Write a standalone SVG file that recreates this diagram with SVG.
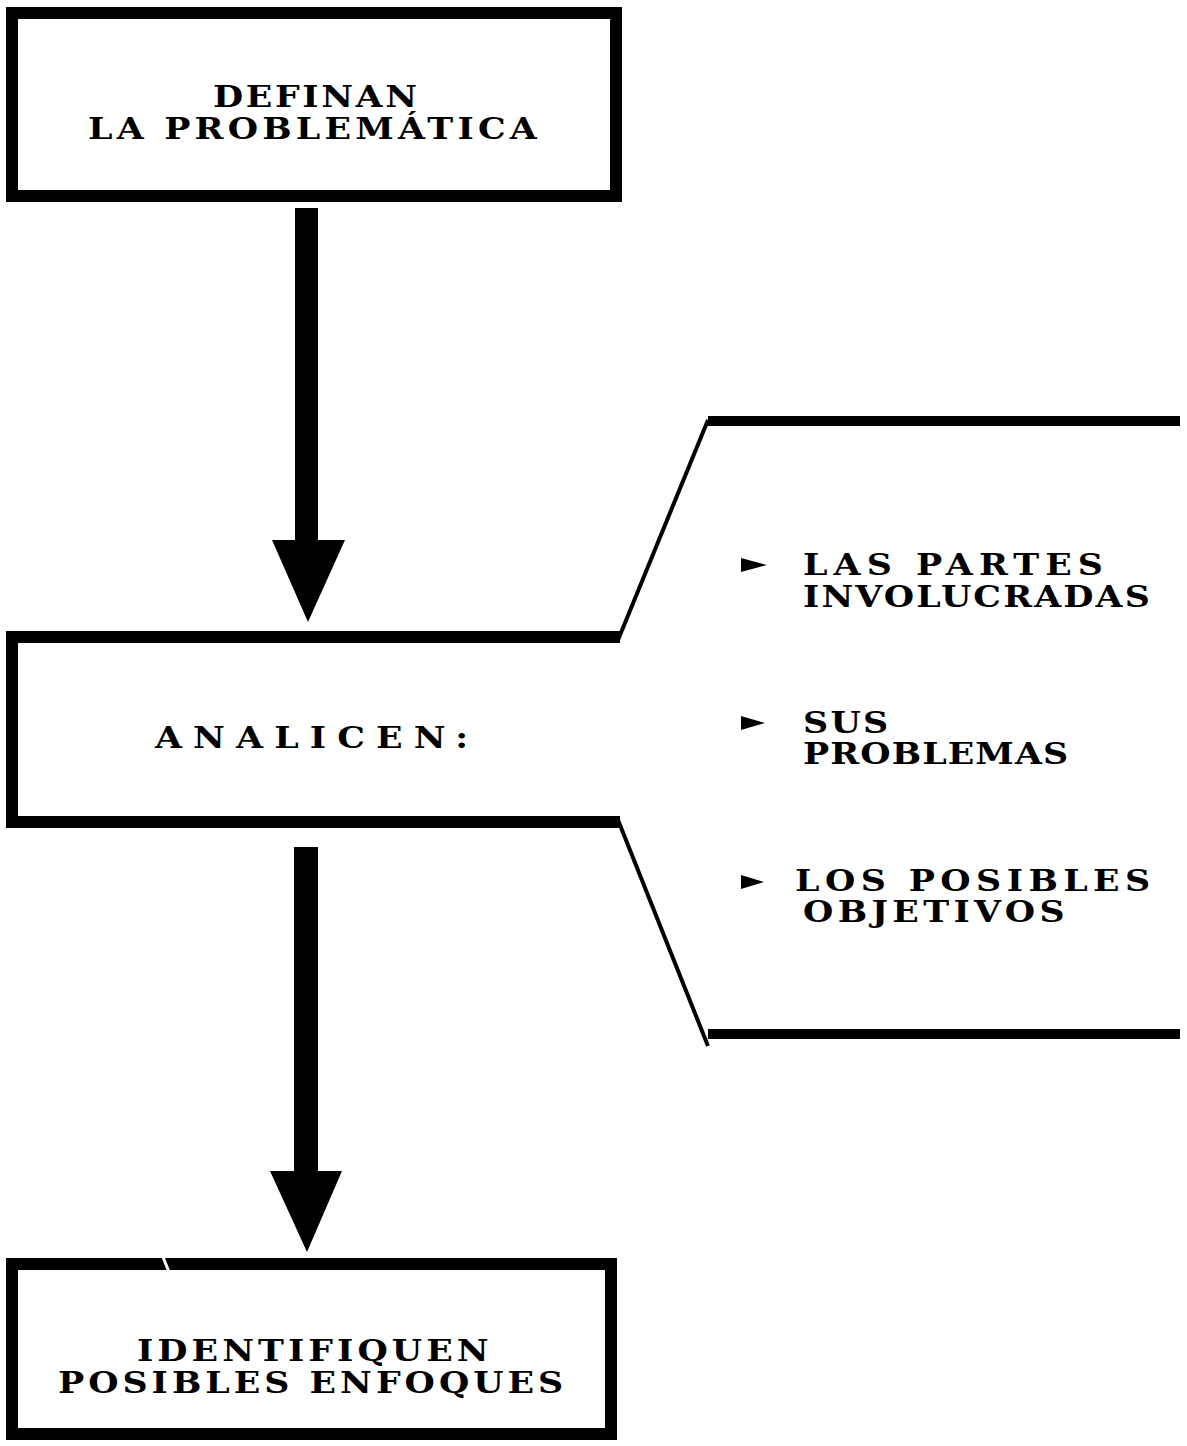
<svg xmlns="http://www.w3.org/2000/svg" width="1187" height="1446" viewBox="0 0 1187 1446">
<style>
.box{fill:none;stroke:#000;stroke-width:12}
.t{font-family:"DejaVu Serif","Liberation Serif",serif;font-weight:bold;font-size:29px;fill:#000}
.thin{fill:none;stroke:#000;stroke-width:4;stroke-linejoin:round}
.thick{fill:none;stroke:#000;stroke-width:10}
</style>
<rect width="1187" height="1446" fill="#fff"/>
<g id="node-definan">
<rect class="box" x="12" y="13" width="604" height="183"/>
<text class="t" transform="matrix(1.2 0 0 1 213 0)" x="0" y="107" textLength="170" lengthAdjust="spacing">DEFINAN</text>
<text class="t" transform="matrix(1.2 0 0 1 88 0)" x="0" y="139" textLength="374" lengthAdjust="spacing">LA PROBLEMÁTICA</text>
</g>
<g id="node-analicen">
<path class="box" d="M620,637 H12 V822 H620"/>
<text class="t" transform="matrix(1.2 0 0 1 155 0)" x="0" y="748" textLength="261" lengthAdjust="spacing">ANALICEN:</text>
</g>
<g id="node-list">
<path class="thin" d="M618,640 L708,420"/>
<path class="thick" d="M708,421 H1180"/>
<path class="thin" d="M618,820 L708,1046"/>
<path class="thick" d="M708,1034 H1180"/>
<path d="M741,558 L767,565 L741,572 Z"/>
<text class="t" transform="matrix(1.2 0 0 1 803 0)" x="0" y="575" textLength="250" lengthAdjust="spacing">LAS PARTES</text>
<text class="t" transform="matrix(1.2 0 0 1 803 0)" x="0" y="607" textLength="289" lengthAdjust="spacing">INVOLUCRADAS</text>
<path d="M741,716 L765,723 L741,730 Z"/>
<text class="t" transform="matrix(1.2 0 0 1 803 0)" x="0" y="733" textLength="71" lengthAdjust="spacing">SUS</text>
<text class="t" transform="matrix(1.2 0 0 1 803 0)" x="0" y="764" textLength="221" lengthAdjust="spacing">PROBLEMAS</text>
<path d="M741,875 L764,882 L741,889 Z"/>
<text class="t" transform="matrix(1.2 0 0 1 795 0)" x="0" y="891" textLength="296" lengthAdjust="spacing">LOS POSIBLES</text>
<text class="t" transform="matrix(1.2 0 0 1 803 0)" x="0" y="922" textLength="218" lengthAdjust="spacing">OBJETIVOS</text>
</g>
<g id="node-identifiquen">
<rect class="box" x="12" y="1264" width="599" height="170"/>
<line x1="163" y1="1257" x2="169" y2="1272" stroke="#fff" stroke-width="3"/>
<text class="t" transform="matrix(1.2 0 0 1 137 0)" x="0" y="1361" textLength="293" lengthAdjust="spacing">IDENTIFIQUEN</text>
<text class="t" transform="matrix(1.2 0 0 1 58 0)" x="0" y="1393" textLength="421" lengthAdjust="spacing">POSIBLES ENFOQUES</text>
</g>
<g id="connectors">
<path d="M295,208 H318 V540 H345 L308,622 L272,540 H295 Z" fill="#000"/>
<path d="M294,847 H318 V1171 H342 L307,1252 L270,1171 H294 Z" fill="#000"/>
</g>
</svg>
